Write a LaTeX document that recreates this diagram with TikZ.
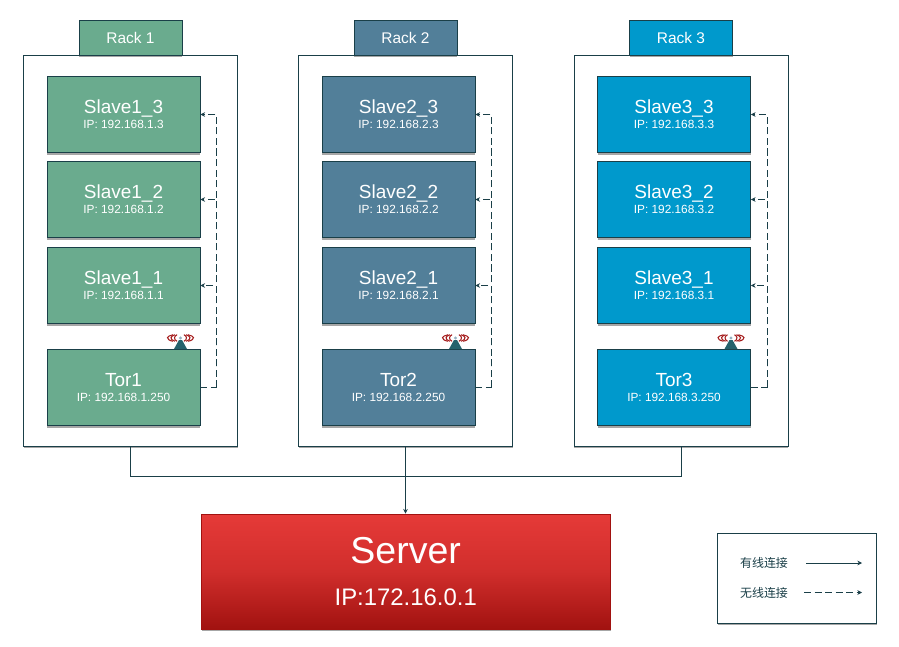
\documentclass[tikz,border=0pt]{standalone}
\usepackage{fontspec}
\setmainfont{Liberation Sans}
\newfontfamily\cjk{Noto Sans CJK SC}
\usetikzlibrary{arrows.meta,shadows}
\definecolor{linecolor}{HTML}{1A3F48}
\definecolor{rackgreen}{HTML}{6AAB8E}
\definecolor{rackslate}{HTML}{527F99}
\definecolor{rackblue}{HTML}{0099CC}
\definecolor{servertop}{HTML}{E53A38}
\definecolor{serverbot}{HTML}{A11210}
\definecolor{waves}{HTML}{A51C1C}
\definecolor{mast}{HTML}{25626C}
\tikzset{
    softshadow/.style={drop shadow={shadow xshift=0.4pt,shadow yshift=-1.8pt,opacity=0.35,fill=black}},
    framebox/.style={draw=linecolor,fill=white,line width=0.6pt,minimum width=6.42cm,minimum height=11.73cm,softshadow},
    racklabel/.style={draw=linecolor,line width=0.6pt,text=white,minimum width=3.09cm,minimum height=1.05cm,softshadow,font=\fontsize{13.2}{14}\selectfont},
    hostbox/.style={draw=linecolor,line width=0.6pt,text=white,minimum width=4.59cm,minimum height=2.28cm,align=center,softshadow},
    serverbox/.style={draw=serverbot,line width=0.6pt,text=white,minimum width=12.27cm,minimum height=3.45cm,align=center,softshadow,top color=servertop,bottom color=serverbot,middle color=servertop!70!serverbot},
    legendbox/.style={draw=linecolor,fill=white,line width=0.6pt,minimum width=4.77cm,minimum height=2.7cm,softshadow},
    wired/.style={draw=linecolor,line width=0.6pt},
    wireless/.style={draw=linecolor,line width=0.6pt,dash pattern=on 6pt off 3pt},
    tip/.style={-{Stealth[length=4pt,width=4pt]}},
    legendtext/.style={text=linecolor,font=\cjk\fontsize{10.2}{11}\selectfont}
}
\newcommand{\hostname}[2]{{\fontsize{16.2}{16.2}\selectfont #1}\\[1pt]{\fontsize{10.1}{11}\selectfont #2}}
\begin{document}
\begin{tikzpicture}[x=0.03cm,y=-0.03cm]
    \useasboundingbox (0,0) rectangle (899,646);
    % one rack at a time
    \foreach \r/\cx/\col in {1/130.5/rackgreen,2/405.5/rackslate,3/681/rackblue} {
        \node [framebox] (frame\r) at (\cx,250.5) {};
        \node [racklabel,fill=\col] (rack\r) at (\cx,37.5) {Rack \r};
        \foreach \s/\sy in {3/114.5,2/199.5,1/285.5} {
            \node [hostbox,fill=\col] (slave\r_\s) at (\cx-7,\sy) {\hostname{Slave\r\_\s}{IP: 192.168.\r.\s}};
        }
        \node [hostbox,fill=\col] (tor\r) at (\cx-7,387.5) {\hostname{Tor\r}{IP: 192.168.\r.250}};
        % antenna on the tor
        \fill [mast] (\cx+43.5,349) -- (\cx+48.5,340) -- (\cx+51.5,340) -- (\cx+56.5,349) -- cycle;
        \fill [rackslate!60] (\cx+50,338) circle (1.6);
        \foreach \w in {6,9.5,13} {
            \draw [waves,line width=0.9pt] (\cx+50,338) ++(125:\w/1 and 4) arc (125:235:\w/1 and 4);
            \draw [waves,line width=0.9pt] (\cx+50,338) ++(55:\w/1 and 4) arc (55:-55:\w/1 and 4);
        }
        % wireless links
        \coordinate (turn\r) at (\cx+86,387.5);
        \draw [wireless] (tor\r.east) -- (turn\r);
        \foreach \s in {1,2,3} {
            \draw [wireless,tip] (turn\r) |- (slave\r_\s.east);
        }
    }
    % server and wired links
    \node [serverbox] (server) at (405.7,571.5) {{\fontsize{32}{32}\selectfont Server}\\[20pt]{\fontsize{20.4}{20.4}\selectfont IP:172.16.0.1}};
    \coordinate (bus) at (405.5,476);
    \draw [wired] (frame1.south) |- (bus);
    \draw [wired] (frame3.south) |- (bus);
    \draw [wired,tip] (frame2.south) -- (frame2.south |- server.north);
    % legend
    \node [legendbox] (legend) at (797,578) {};
    \node [legendtext] (wiredtext) at (764,563) {有线连接};
    \node [legendtext] (wirelesstext) at (764,592.5) {无线连接};
    \coordinate (wiredstart) at (806,563);
    \coordinate (wiredend) at (862,563);
    \coordinate (wirelessstart) at (804,592.5);
    \coordinate (wirelessend) at (862,592.5);
    \draw [wired,tip] (wiredstart) -- (wiredend);
    \draw [wireless,tip] (wirelessstart) -- (wirelessend);
\end{tikzpicture}
\end{document}
